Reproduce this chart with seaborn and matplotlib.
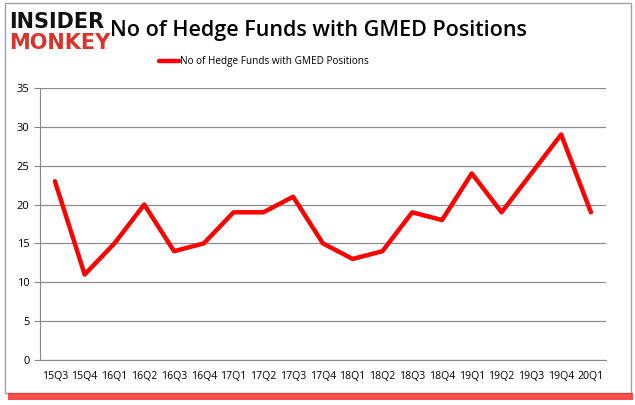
import numpy as np
import pandas as pd
import matplotlib
matplotlib.use("Agg")
import matplotlib.pyplot as plt
import seaborn as sns
from matplotlib.patches import Rectangle

# data
quarters = ['15Q3', '15Q4', '16Q1', '16Q2', '16Q3', '16Q4', '17Q1', '17Q2', '17Q3', '17Q4',
            '18Q1', '18Q2', '18Q3', '18Q4', '19Q1', '19Q2', '19Q3', '19Q4', '20Q1']
funds = [23, 11, 15, 20, 14, 15, 19, 19, 21, 15, 13, 14, 19, 18, 24, 19, 24, 29, 19]

df = pd.DataFrame({'pos': np.arange(len(quarters)), 'funds': funds})

sns.set_style("white")
plt.rcParams['font.family'] = ['Open Sans', 'DejaVu Sans']
plt.rcParams['text.color'] = 'black'
plt.rcParams['xtick.color'] = 'black'
plt.rcParams['ytick.color'] = 'black'

fig = plt.figure(figsize=(6.35, 4.05), dpi=100)
ax = fig.add_axes([0.063, 0.111, 0.891, 0.672])

sns.lineplot(data=df, x='pos', y='funds', ax=ax, color='#ff0000', linewidth=3.2,
             label='No of Hedge Funds with GMED Positions', legend=False)

ax.set_xlim(-0.5, len(quarters) - 0.5)
ax.set_ylim(0, 35)
ax.set_yticks(range(0, 36, 5))
ax.set_xticks(df['pos'])
ax.set_xticklabels(quarters, fontsize=7.6)
ax.set_xticks(np.arange(-0.5, len(quarters), 1), minor=True)
ax.tick_params(axis='x', which='major', length=0, pad=8)
ax.tick_params(axis='x', which='minor', length=4, color='#888888', direction='out')
ax.tick_params(axis='y', labelsize=8, length=4, color='#888888', direction='out', left=True)
ax.set_xlabel('')
ax.set_ylabel('')
ax.grid(axis='y', color='#8c8c8c', linewidth=0.9)
for s in ['top', 'right']:
    ax.spines[s].set_visible(False)
ax.spines['left'].set_color('#888888')
ax.spines['bottom'].set_color('#888888')

# figure frame with red shadow
fig.patches.append(Rectangle((0.008, 0.03), 0.985, 0.962, transform=fig.transFigure,
                             fill=False, edgecolor='#a0a0a0', linewidth=1.0))
fig.patches.append(Rectangle((0.012, 0.012), 0.985, 0.018, transform=fig.transFigure,
                             facecolor='#ff2020', edgecolor='none', alpha=0.8))

# logo and title
fig.text(0.014, 0.945, 'INSIDER', fontsize=15, fontweight='bold', color='#111111',
         family='DejaVu Sans', va='center')
fig.text(0.014, 0.895, 'MONKEY', fontsize=15, fontweight='bold', color='#d9342b',
         family='DejaVu Sans', va='center')
fig.text(0.502, 0.925, 'No of Hedge Funds with GMED Positions', fontsize=15.5,
         fontweight='semibold', color='black', ha='center', va='center')

# legend
fig.legend(handles=ax.get_lines(), loc='center', bbox_to_anchor=(0.415, 0.847),
           frameon=False, fontsize=7.2, handlelength=2.0, handletextpad=0.1)

fig.savefig('out.png', dpi=100)
